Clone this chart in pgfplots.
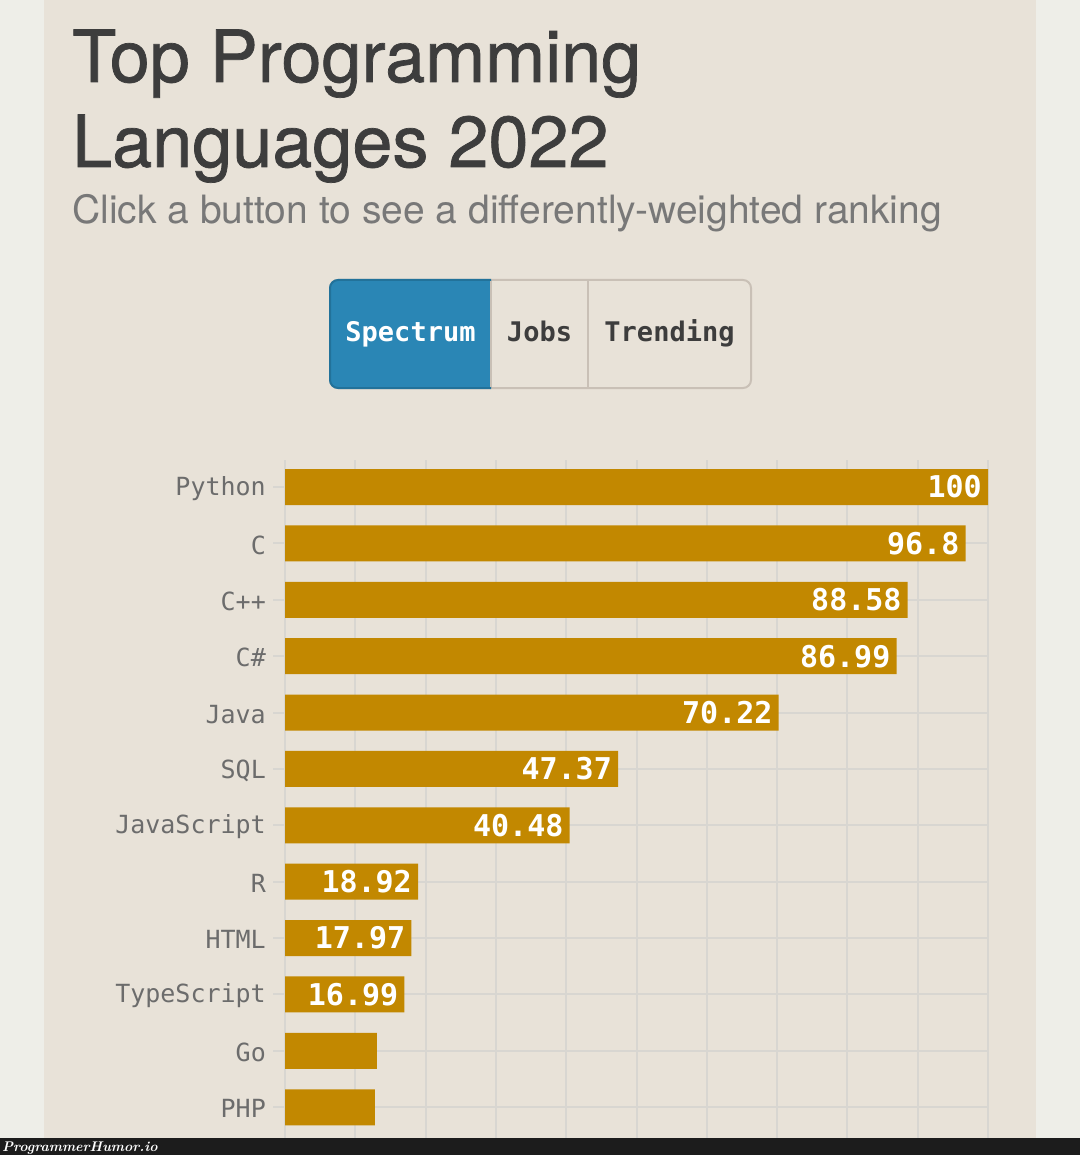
\documentclass[border=0pt]{standalone}
\usepackage{fontspec}
\setmainfont{TeX Gyre Heros}
\newfontfamily\titlef[FakeBold=1]{TeX Gyre Heros}
\newfontfamily\monof{DejaVu Sans Mono}
\newfontfamily\wmfont{Latin Modern Roman}
\usepackage{pgfplots}
\pgfplotsset{compat=1.18}
\definecolor{outerbg}{HTML}{EEEEE8}
\definecolor{panelbg}{HTML}{E8E2D8}
\definecolor{gridc}{HTML}{D8D6D1}
\definecolor{barc}{HTML}{C28800}
\definecolor{titlec}{HTML}{3D3D3D}
\definecolor{subc}{HTML}{787878}
\definecolor{tickc}{HTML}{6C6C6C}
\definecolor{btnblue}{HTML}{2A86B5}
\definecolor{btnbluedark}{HTML}{22729A}
\definecolor{btnborder}{HTML}{C9C0B6}
\definecolor{wmbar}{HTML}{1C1C1C}
\begin{document}
\begin{tikzpicture}[x=1pt,y=1pt]
\useasboundingbox (0,0) rectangle (1080,-1155);
\fill[outerbg] (0,0) rectangle (1080,-1155);
\fill[panelbg] (44,0) rectangle (1036,-1155);
% titles
\node[anchor=base west, inner sep=0pt, text=titlec, font=\titlef\fontsize{72}{80}\selectfont] at (72,-82) {Top Programming};
\node[anchor=base west, inner sep=0pt, text=titlec, font=\titlef\fontsize{72}{80}\selectfont] at (72,-167) {Languages 2022};
\node[anchor=base west, inner sep=0pt, text=subc, font=\fontsize{39}{44}\selectfont] at (72,-224) {Click a button to see a differently-weighted ranking};
% buttons
\draw[btnborder, line width=2pt, rounded corners=8pt] (330,-280) rectangle (751,-388);
\begin{scope}
\clip (300,-260) rectangle (491,-400);
\draw[btnbluedark, fill=btnblue, line width=2pt, rounded corners=8pt] (330,-280) rectangle (560,-388);
\end{scope}
\draw[btnborder, line width=2pt] (491,-281) -- (491,-387);
\draw[btnborder, line width=2pt] (588,-281) -- (588,-387);
\node[anchor=base, inner sep=0pt, text=white, font=\monof\bfseries\fontsize{27}{30}\selectfont] at (410.5,-341) {Spectrum};
\node[anchor=base, inner sep=0pt, text=titlec, font=\monof\bfseries\fontsize{27}{30}\selectfont] at (539.5,-341) {Jobs};
\node[anchor=base, inner sep=0pt, text=titlec, font=\monof\bfseries\fontsize{27}{30}\selectfont] at (669.5,-341) {Trending};
% chart
\begin{axis}[
  at={(285pt,-460pt)}, anchor=north west,
  scale only axis, width=703pt, height=685pt,
  xbar, bar width=36pt,
  xmin=0, xmax=100, ymin=-0.48, ymax=11.67,
  enlargelimits=false,
  y dir=reverse,
  axis line style={draw=none},
  xtick={0,10,...,100}, xticklabels={},
  x tick style={draw=none},
  xmajorgrids, ymajorgrids,
  grid style={gridc, line width=2pt},
  ytick={0,...,11},
  yticklabels={Python,C,C++,C\#,Java,SQL,JavaScript,R,HTML,TypeScript,Go,PHP},
  ytick pos=left, tick align=outside,
  y tick style={gridc, line width=2pt},
  major tick length=12pt,
  yticklabel style={font=\monof\fontsize{25}{30}\selectfont, text=tickc, inner sep=0pt, xshift=-7pt, yshift=-1.5pt},
  clip=false,
]
\addplot[fill=barc, draw=none, bar shift=0pt,
  nodes near coords, point meta=explicit symbolic,
  every node near coord/.append style={anchor=east, inner sep=0pt, xshift=-6pt, text=white, font=\monof\bfseries\fontsize{30}{32}\selectfont}]
  coordinates {
  (100,0) [100]
  (96.8,1) [96.8]
  (88.58,2) [88.58]
  (86.99,3) [86.99]
  (70.22,4) [70.22]
  (47.37,5) [47.37]
  (40.48,6) [40.48]
  (18.92,7) [18.92]
  (17.97,8) [17.97]
  (16.99,9) [16.99]
  };
\addplot[fill=barc, draw=none, bar shift=0pt] coordinates {
  (13.08,10)
  (12.80,11)
  };
\end{axis}
% watermark bar
\fill[wmbar] (0,-1138) rectangle (1080,-1155);
\node[anchor=base west, inner sep=0pt, text=white, font=\wmfont\bfseries\itshape\fontsize{14}{15}\selectfont] at (2,-1151) {ProgrammerHumor.io};
\end{tikzpicture}
\end{document}
